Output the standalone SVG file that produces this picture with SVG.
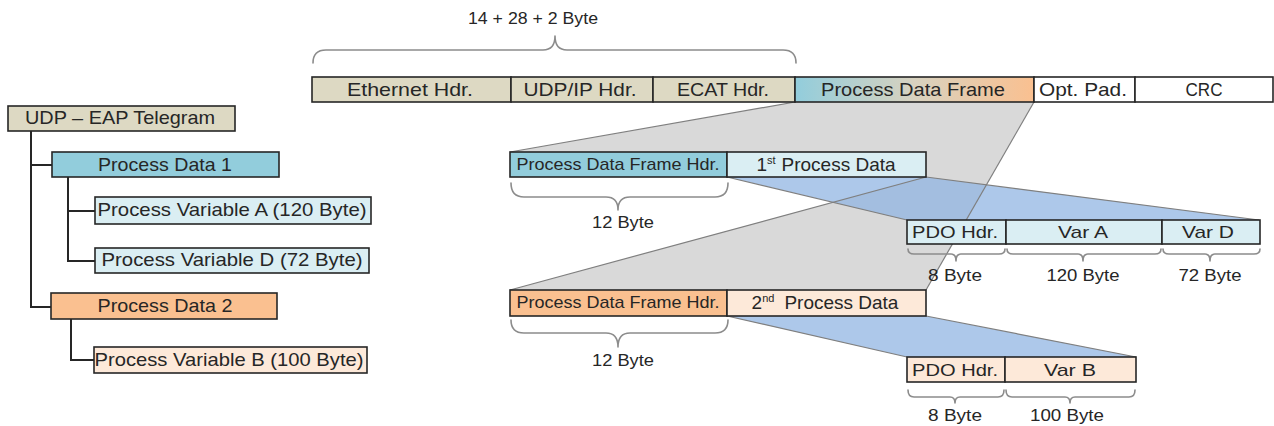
<svg xmlns="http://www.w3.org/2000/svg" width="1274" height="426" viewBox="0 0 1274 426">
  <defs>
    <linearGradient id="pdfGrad" x1="0" y1="0" x2="1" y2="0">
      <stop offset="0" stop-color="#92cddc"/>
      <stop offset="0.5" stop-color="#d8d2bf"/>
      <stop offset="1" stop-color="#fac090"/>
    </linearGradient>
    <style>
      .box { stroke: #262626; stroke-width: 1.6; }
      .tan { fill: #ddd9c3; }
      .aqua { fill: #92cddc; }
      .ltaqua { fill: #daeef3; }
      .orange { fill: #fac090; }
      .ltorange { fill: #fde9d9; }
      .white { fill: #ffffff; }
      .tree { fill: none; stroke: #262626; stroke-width: 2; }
      .edge { fill: none; stroke: #7f7f7f; stroke-width: 1.2; }
      .brace { fill: none; stroke: #8c8c8c; stroke-width: 1.6; stroke-linecap: round; stroke-linejoin: round; }
      .shade { fill: #d9d9d9; }
      .blue { fill: #8db3e2; fill-opacity: 0.72; }
      text { font-family: "Liberation Sans", Arial, sans-serif; fill: #262626; text-anchor: middle; }
      .lg { font-size: 19px; }
      .md { font-size: 17px; }
    </style>
  </defs>

  <!-- projections of the frame onto its parts -->
  <g id="connectors">
    <polygon class="shade" points="795,102 1034,102 926,290 510,290 926,177 926,152 510,152"/>
    <polygon class="blue" points="727,177 926,177 1259,220 907,220"/>
    <polygon class="blue" points="727,316 926,316 1136,357 907,357"/>
    <line class="edge" x1="795" y1="102" x2="510" y2="152"/>
    <line class="edge" x1="1034" y1="102" x2="926" y2="290"/>
    <line class="edge" x1="510" y1="290" x2="926" y2="177"/>
    <line class="edge" x1="727" y1="177" x2="907" y2="220"/>
    <line class="edge" x1="926" y1="177" x2="1259" y2="220"/>
    <line class="edge" x1="727" y1="316" x2="907" y2="357"/>
    <line class="edge" x1="926" y1="316" x2="1136" y2="357"/>

    <!-- tree lines -->
    <polyline class="tree" points="31,131 31,307 51,307"/>
    <line class="tree" x1="31" y1="165" x2="52" y2="165"/>
    <polyline class="tree" points="68,177 68,261 95,261"/>
    <line class="tree" x1="68" y1="211" x2="95" y2="211"/>
    <polyline class="tree" points="71,319 71,360 94,360"/>
  </g>

  <!-- size brace over the headers -->
  <g id="brace-headers">
    <path class="brace" d="M313,63 Q313,50 326,50 L543,50 Q555,50 555,36 Q555,50 567,50 L783,50 Q796,50 796,63"/>
    <text class="md" x="533" y="24" textLength="130" lengthAdjust="spacingAndGlyphs">14 + 28 + 2 Byte</text>
  </g>

  <!-- Ethernet frame -->
  <g id="frame">
    <rect class="box tan" x="312" y="77" width="199" height="25"/>
    <rect class="box tan" x="511" y="77" width="142" height="25"/>
    <rect class="box tan" x="653" y="77" width="142" height="25"/>
    <rect class="box" fill="url(#pdfGrad)" x="795" y="77" width="239" height="25"/>
    <rect class="box white" x="1034" y="77" width="101" height="25"/>
    <rect class="box white" x="1135" y="77" width="138" height="25"/>
    <text class="lg" x="410" y="96" textLength="126" lengthAdjust="spacingAndGlyphs">Ethernet Hdr.</text>
    <text class="lg" x="580" y="96" textLength="113" lengthAdjust="spacingAndGlyphs">UDP/IP Hdr.</text>
    <text class="lg" x="723" y="96" textLength="92" lengthAdjust="spacingAndGlyphs">ECAT Hdr.</text>
    <text class="lg" x="913" y="96" textLength="184" lengthAdjust="spacingAndGlyphs">Process Data Frame</text>
    <text class="lg" x="1083" y="96" textLength="88" lengthAdjust="spacingAndGlyphs">Opt. Pad.</text>
    <text class="lg" x="1204" y="96" textLength="37" lengthAdjust="spacingAndGlyphs">CRC</text>
  </g>

  <!-- telegram tree -->
  <g id="telegram">
    <rect class="box tan" x="8" y="106" width="227" height="25"/>
    <text class="lg" x="120" y="124" textLength="190" lengthAdjust="spacingAndGlyphs">UDP – EAP Telegram</text>
  </g>
  <g id="pd1">
    <rect class="box aqua" x="52" y="152" width="227" height="25"/>
    <text class="lg" x="165" y="171" textLength="134" lengthAdjust="spacingAndGlyphs">Process Data 1</text>
  </g>
  <g id="var-a">
    <rect class="box ltaqua" x="95" y="197" width="276" height="27"/>
    <text class="lg" x="232" y="216" textLength="269" lengthAdjust="spacingAndGlyphs">Process Variable A (120 Byte)</text>
  </g>
  <g id="var-d">
    <rect class="box ltaqua" x="95" y="248" width="274" height="25"/>
    <text class="lg" x="232" y="266" textLength="261" lengthAdjust="spacingAndGlyphs">Process Variable D (72 Byte)</text>
  </g>
  <g id="pd2">
    <rect class="box orange" x="51" y="293" width="226" height="26"/>
    <text class="lg" x="165" y="312" textLength="135" lengthAdjust="spacingAndGlyphs">Process Data 2</text>
  </g>
  <g id="var-b">
    <rect class="box ltorange" x="94" y="347" width="273" height="26"/>
    <text class="lg" x="229" y="366" textLength="269" lengthAdjust="spacingAndGlyphs">Process Variable B (100 Byte)</text>
  </g>

  <!-- first process data -->
  <g id="row1">
    <rect class="box aqua" x="510" y="152" width="217" height="25"/>
    <rect class="box ltaqua" x="727" y="152" width="199" height="25"/>
    <text class="md" x="618" y="170" textLength="203" lengthAdjust="spacingAndGlyphs">Process Data Frame Hdr.</text>
    <text class="lg" x="826" y="171"><tspan>1</tspan><tspan font-size="11" dy="-7">st</tspan><tspan dy="7" dx="6">Process Data</tspan></text>
    <path class="brace" d="M511,183 Q511,197 524,197 L606,197 Q618,197 618,210 Q618,197 630,197 L715,197 Q728,197 728,183"/>
    <text class="md" x="623" y="228" textLength="62" lengthAdjust="spacingAndGlyphs">12 Byte</text>
  </g>

  <g id="pdo1">
    <rect class="box ltaqua" x="907" y="220" width="99" height="24"/>
    <rect class="box ltaqua" x="1006" y="220" width="156" height="24"/>
    <rect class="box ltaqua" x="1162" y="220" width="98" height="24"/>
    <text class="md" x="955" y="238" textLength="86" lengthAdjust="spacingAndGlyphs">PDO Hdr.</text>
    <text class="md" x="1083" y="238" textLength="50" lengthAdjust="spacingAndGlyphs">Var A</text>
    <text class="md" x="1208" y="238" textLength="52" lengthAdjust="spacingAndGlyphs">Var D</text>
    <path class="brace" d="M908,249 Q908,254 914,254 L951,254 Q956,254 956,261 Q956,254 961,254 L999,254 Q1005,254 1005,249"/>
    <path class="brace" d="M1007,249 Q1007,254 1013,254 L1078,254 Q1083,254 1083,261 Q1083,254 1088,254 L1155,254 Q1161,254 1161,249"/>
    <path class="brace" d="M1163,249 Q1163,254 1169,254 L1205,254 Q1210,254 1210,261 Q1210,254 1215,254 L1254,254 Q1260,254 1260,249"/>
    <text class="md" x="955" y="281" textLength="54" lengthAdjust="spacingAndGlyphs">8 Byte</text>
    <text class="md" x="1083" y="281" textLength="73" lengthAdjust="spacingAndGlyphs">120 Byte</text>
    <text class="md" x="1210" y="281" textLength="63" lengthAdjust="spacingAndGlyphs">72 Byte</text>
  </g>

  <!-- second process data -->
  <g id="row2">
    <rect class="box orange" x="510" y="290" width="217" height="26"/>
    <rect class="box ltorange" x="727" y="290" width="199" height="26"/>
    <text class="md" x="618" y="308" textLength="203" lengthAdjust="spacingAndGlyphs">Process Data Frame Hdr.</text>
    <text class="lg" x="825" y="309"><tspan>2</tspan><tspan font-size="11" dy="-7">nd</tspan><tspan dy="7" dx="10">Process Data</tspan></text>
    <path class="brace" d="M511,320 Q511,333 524,333 L606,333 Q618,333 618,347 Q618,333 630,333 L715,333 Q728,333 728,320"/>
    <text class="md" x="623" y="366" textLength="62" lengthAdjust="spacingAndGlyphs">12 Byte</text>
  </g>

  <g id="pdo2">
    <rect class="box ltorange" x="907" y="357" width="98" height="25"/>
    <rect class="box ltorange" x="1005" y="357" width="131" height="25"/>
    <text class="md" x="955" y="376" textLength="86" lengthAdjust="spacingAndGlyphs">PDO Hdr.</text>
    <text class="md" x="1070" y="376" textLength="52" lengthAdjust="spacingAndGlyphs">Var B</text>
    <path class="brace" d="M908,390 Q908,397 914,397 L950,397 Q955,397 955,403 Q955,397 960,397 L998,397 Q1004,397 1004,390"/>
    <path class="brace" d="M1006,390 Q1006,397 1012,397 L1065,397 Q1070,397 1070,403 Q1070,397 1075,397 L1129,397 Q1135,397 1135,390"/>
    <text class="md" x="955" y="421" textLength="54" lengthAdjust="spacingAndGlyphs">8 Byte</text>
    <text class="md" x="1067" y="421" textLength="74" lengthAdjust="spacingAndGlyphs">100 Byte</text>
  </g>
</svg>
